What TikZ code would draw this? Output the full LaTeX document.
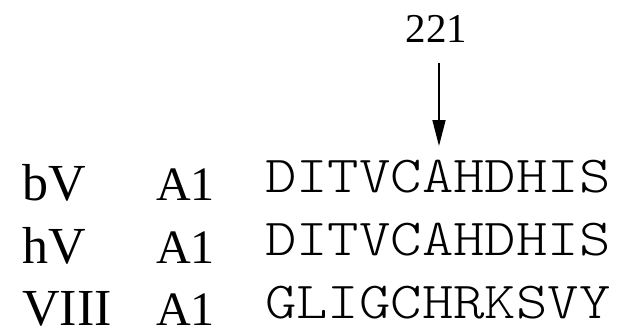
\documentclass[tikz,border=0pt]{standalone}
\usepackage{fontspec}
\setmainfont{Liberation Serif}
\newfontfamily\seqfont[Extension=.otf,FakeStretch=1.15]{lmmonolt10-regular}
\usetikzlibrary{arrows.meta}
\tikzset{
	species/.style={anchor=base west,inner sep=0pt,font=\fontsize{52}{52}\selectfont},
	region/.style={anchor=base west,inner sep=0pt,font=\fontsize{48}{48}\selectfont},
	residues/.style={anchor=base west,inner sep=0pt,font=\seqfont\fontsize{52}{52}\selectfont},
}
\begin{document}
\begin{tikzpicture}[x=1pt,y=-1pt]
	\useasboundingbox (0,0) rectangle (629,329);
	\node[anchor=base,inner sep=0pt,font=\fontsize{41}{41}\selectfont] (pos) at (436.5,43) {221};
	\coordinate (shaft) at (439,63);
	\coordinate (tip) at (439,146);
	\draw[line width=1.6pt,-{Triangle[length=26pt,width=13pt]}] (shaft) -- (tip);
	% rows
	\node[species] (bv) at (22,200) {bV};
	\node[region] (bva) at (156,200) {A1};
	\node[residues] (bvseq) at (265,192) {DITVCAHDHIS};
	\node[species] (hv) at (22,263) {hV};
	\node[region] (hva) at (156,263) {A1};
	\node[residues] (hvseq) at (265,255) {DITVCAHDHIS};
	\node[species] (viii) at (22,325.5) {VIII};
	\node[region] (viiia) at (156,325.5) {A1};
	\node[residues] (viiiseq) at (265,318) {GLIGCHRKSVY};
\end{tikzpicture}
\end{document}
